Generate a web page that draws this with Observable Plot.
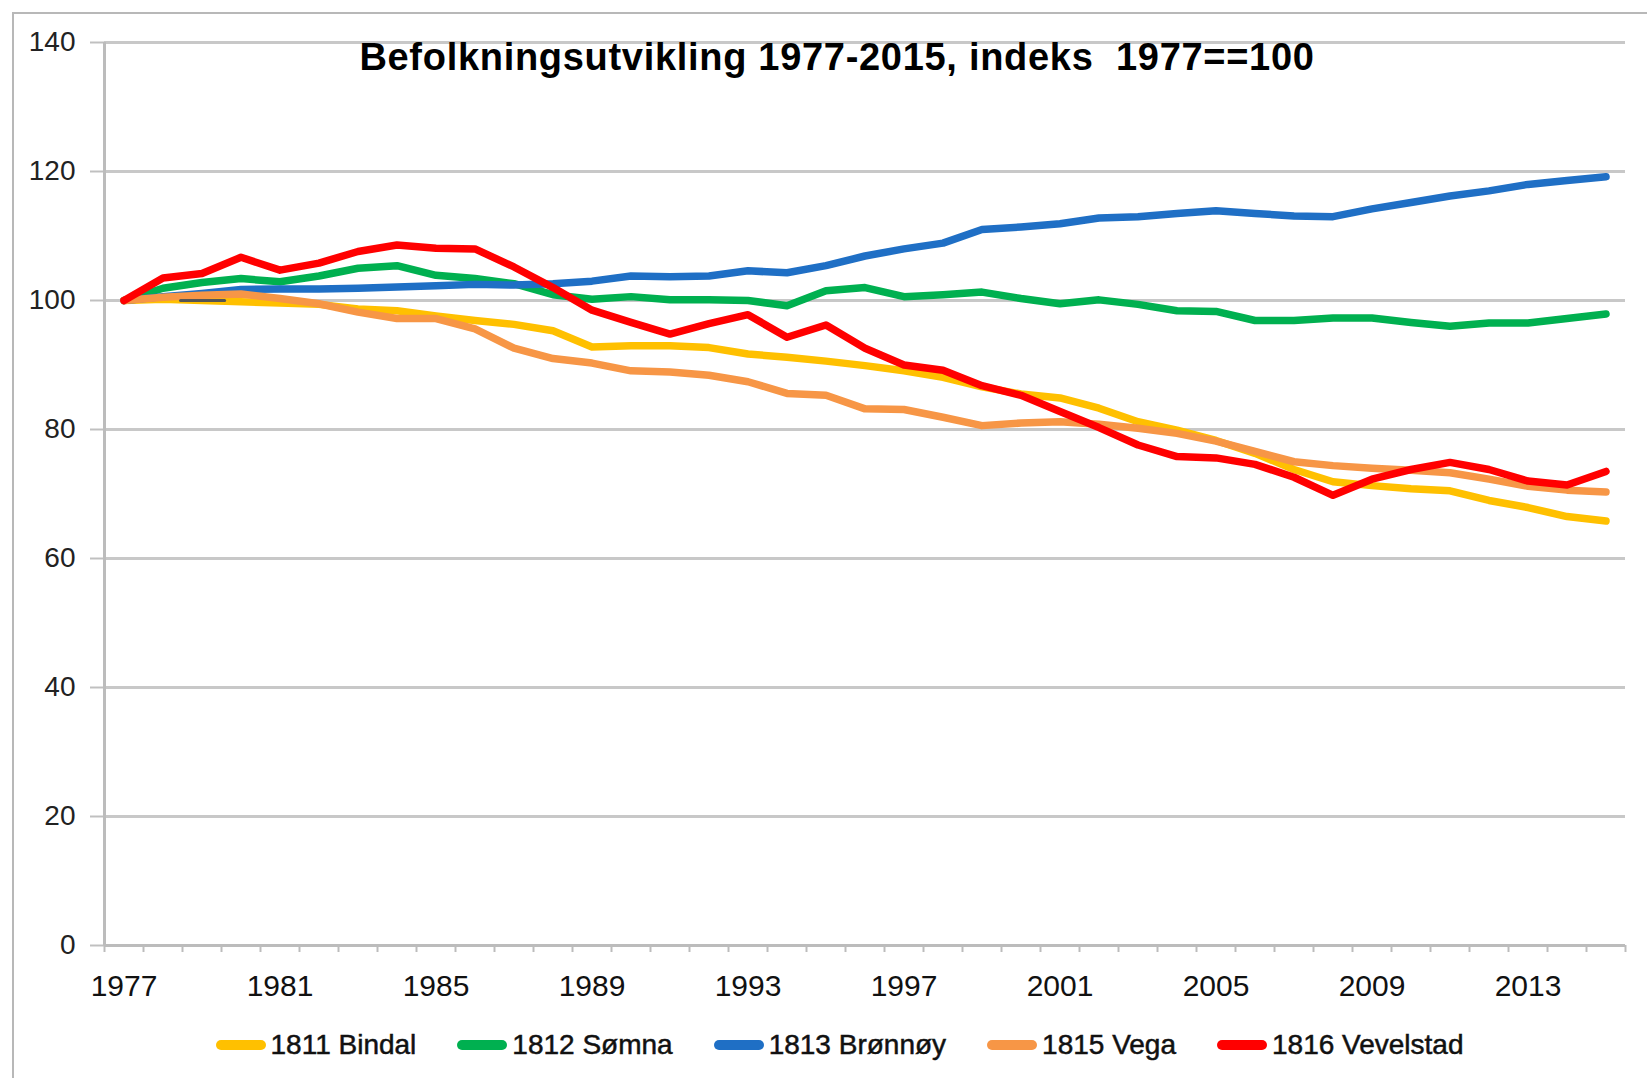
<!DOCTYPE html>
<html>
<head>
<meta charset="utf-8">
<script src="https://cdn.jsdelivr.net/npm/d3@7"></script>
<script src="https://cdn.jsdelivr.net/npm/@observablehq/plot@0.6"></script>
<style>
  body { margin: 0; background: #fff; }
  #wrap { position: relative; width: 1647px; height: 1078px; overflow: hidden; font-family: "Liberation Sans", Arial, sans-serif; background:#fff; }
  #frame { position: absolute; left: 12px; top: 12px; width: 1700px; height: 1100px; border-left: 2px solid #b8b8b8; border-top: 2px solid #b8b8b8; }
  #chart { position: absolute; left: 0; top: 0; }
  #title { position: absolute; left: 837px; top: 38px; transform: translateX(-50%); font-size: 38px; font-weight: bold; line-height: 38px; letter-spacing: 0.7px; white-space: pre; color: #000; }
  #legend { position: absolute; top: 1027px; left: 0; width: 1679px; display: flex; justify-content: center; gap: 41px; }
  .item { display: flex; align-items: center; height: 36px; }
  .sw { width: 50px; height: 10px; border-radius: 5px; margin-right: 5px; }
  .lab { font-size: 28px; line-height: 36px; color: #111; -webkit-text-stroke: 0.5px #111; white-space: pre; }
</style>
</head>
<body>
<div id="wrap">
  <div id="frame"></div>
  <div id="chart"></div>
  <div id="title"></div>
  <div id="legend"></div>
</div>
<script>
const titleText = "Befolkningsutvikling 1977-2015, indeks  1977==100";

const years = [1977,1978,1979,1980,1981,1982,1983,1984,1985,1986,1987,1988,1989,1990,1991,1992,1993,1994,1995,1996,1997,1998,1999,2000,2001,2002,2003,2004,2005,2006,2007,2008,2009,2010,2011,2012,2013,2014,2015];

const seriesNames = ["1811 Bindal", "1812 Sømna", "1813 Brønnøy", "1815 Vega", "1816 Vevelstad"];
const seriesColors = ["#FFC000", "#00B050", "#1F6FC5", "#F79646", "#FF0000"];

const bindal = [100,100.2,100.0,99.8,99.6,99.4,98.7,98.4,97.6,96.9,96.3,95.3,92.8,93.0,93.0,92.7,91.7,91.2,90.6,89.9,89.1,88.1,86.6,85.5,84.9,83.3,81.2,79.9,78.3,76.3,73.8,71.9,71.3,70.8,70.5,69.0,67.9,66.5,65.8];
const somna = [100,101.9,102.8,103.4,102.9,103.8,105.0,105.4,103.9,103.4,102.6,100.9,100.2,100.6,100.1,100.1,100.0,99.2,101.5,102.0,100.6,100.9,101.3,100.3,99.5,100.1,99.4,98.4,98.3,96.9,96.9,97.3,97.3,96.6,96.0,96.5,96.5,97.2,97.9];
const bronnoy = [100,100.6,101.1,101.7,101.8,101.8,101.9,102.1,102.3,102.5,102.4,102.6,103.0,103.8,103.7,103.8,104.6,104.3,105.4,106.9,108.0,108.9,111.0,111.4,111.9,112.8,113.0,113.5,113.9,113.5,113.1,113.0,114.2,115.2,116.2,117.0,118.0,118.6,119.2];
const vega = [100,100.5,100.8,101.0,100.3,99.5,98.2,97.2,97.2,95.6,92.6,91.0,90.3,89.1,88.9,88.4,87.4,85.6,85.3,83.2,83.1,81.9,80.6,81.0,81.2,80.8,80.2,79.4,78.2,76.6,75.0,74.4,74.0,73.7,73.3,72.3,71.2,70.6,70.3];
const vevelstad = [100,103.5,104.2,106.7,104.7,105.8,107.6,108.6,108.1,108.0,105.2,102.0,98.5,96.6,94.8,96.4,97.8,94.3,96.2,92.6,90.0,89.2,86.8,85.3,82.8,80.3,77.6,75.8,75.6,74.6,72.6,69.8,72.3,73.8,74.9,73.8,72.0,71.4,73.5];

const yTicks = [0,20,40,60,80,100,120,140];
const xLabelYears = [1977,1981,1985,1989,1993,1997,2001,2005,2009,2013];

// small dark dash visible in the original near the 100 line
const dashYears = [1978.45, 1979.58];
const dashValues = [100, 100];

const seriesValues = [bindal, somna, bronnoy, vega, vevelstad];
const data = [];
seriesValues.forEach((vals, k) => vals.forEach((v, i) => data.push({year: years[i], value: v, name: seriesNames[k]})));
const dashData = dashYears.map((y, i) => ({year: y, value: dashValues[i]}));
const boundaries = years.map(y => y - 0.5).concat([years[years.length - 1] + 0.5]);

const chart = Plot.plot({
  width: 1647,
  height: 1010,
  marginLeft: 104,
  marginRight: 22,
  marginTop: 42,
  marginBottom: 65,
  style: {fontFamily: "'Liberation Sans', Arial, sans-serif", background: "transparent", color: "#222"},
  x: {domain: [boundaries[0], boundaries[boundaries.length - 1]]},
  y: {domain: [0, 140]},
  color: {domain: seriesNames, range: seriesColors},
  marks: [
    Plot.gridY(yTicks, {stroke: "#c8c8c8", strokeOpacity: 1, strokeWidth: 3}),
    Plot.axisY(yTicks, {tickSize: 14, tickPadding: 15, stroke: "#c0c0c0", strokeWidth: 2, fontSize: 28, fill: "#222", label: null, tickFormat: d => String(d)}),
    Plot.ruleX([boundaries[0]], {stroke: "#bcbcbc", strokeWidth: 3}),
    Plot.ruleY([0], {stroke: "#bcbcbc", strokeWidth: 3}),
    Plot.axisX(boundaries, {tickSize: 7, stroke: "#bcbcbc", strokeWidth: 2, tickFormat: () => "", label: null}),
    Plot.axisX(xLabelYears, {tickSize: 0, tickPadding: 29, fontSize: 30, fill: "#111", label: null, tickFormat: d => String(d)}),
    Plot.lineY(data, {x: "year", y: "value", z: "name", stroke: "name", strokeWidth: 7.5, strokeLinecap: "round", strokeLinejoin: "round"}),
    Plot.lineY(dashData, {x: "year", y: "value", stroke: "#555", strokeWidth: 3})
  ]
});
document.getElementById("chart").appendChild(chart);

document.getElementById("title").textContent = titleText;

const legend = document.getElementById("legend");
seriesNames.forEach((n, i) => {
  const it = document.createElement("div");
  it.className = "item";
  const sw = document.createElement("div");
  sw.className = "sw";
  sw.style.background = seriesColors[i];
  const lab = document.createElement("span");
  lab.className = "lab";
  lab.textContent = n;
  it.appendChild(sw);
  it.appendChild(lab);
  legend.appendChild(it);
});
</script>
</body>
</html>
